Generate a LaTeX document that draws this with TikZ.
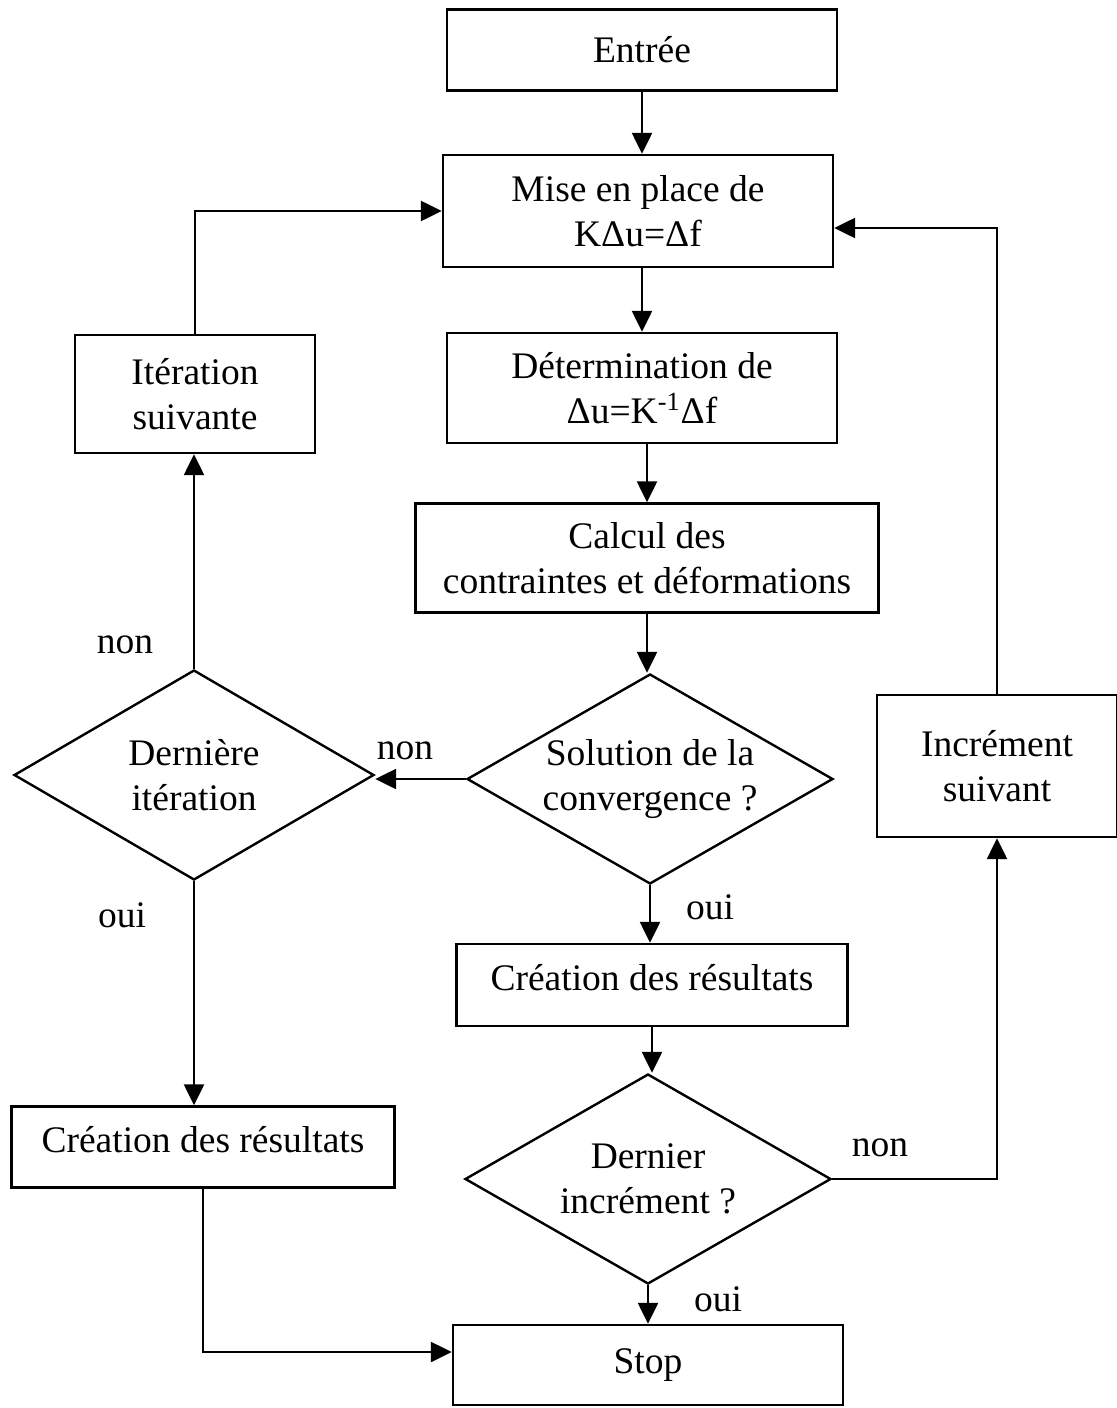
\documentclass[tikz,border=0pt]{standalone}
\usepackage{fontspec}
\setmainfont{Liberation Serif}
\usepackage{tikz}
\usetikzlibrary{arrows.meta, positioning, shapes.geometric}

\begin{document}
\begin{tikzpicture}[
    x=0.5pt, y=-0.5pt,
    >={Triangle[length=10.5pt, width=10pt]},
    txt/.style={font=\fontsize{18.75pt}{22.5pt}\selectfont},
    box/.style={draw, txt, line width=1.2pt, align=center, inner sep=2pt},
    dec/.style={draw, diamond, aspect=1.74, txt, line width=1.2pt, align=center, inner sep=0pt, minimum width=183pt, minimum height=105pt},
]
    \useasboundingbox (0,0) rectangle (1117,1408);

    % main column
    \node[box, minimum width=195pt, minimum height=40.5pt] (entree) at (642,50) {Entrée};
    \node[box, minimum width=195pt, minimum height=56pt] (mise) at (638,211) {Mise en place de\\KΔu=Δf};
    \node[box, minimum width=195pt, minimum height=55pt] (det) at (642,388) {Détermination de\\Δu=K\textsuperscript{-1}Δf};
    \node[box, minimum width=231.5pt, minimum height=54.5pt] (calc) at (647,558) {Calcul des\\contraintes et déformations};
    \node[dec] (conv) at (650,779) {Solution de la\\convergence ?};
    \node[box, minimum width=195.5pt, minimum height=41pt, text depth=8pt] (res) at (652,985) {Création des résultats};
    \node[dec] (dinc) at (648,1179) {Dernier\\incrément ?};
    \node[box, minimum width=195pt, minimum height=40pt] (stop) at (648,1365) {Stop};

    % left and right branches
    \node[box, minimum width=120pt, minimum height=59pt] (iter) at (195,394) {Itération\\suivante};
    \node[dec, minimum width=180pt] (dit) at (194,775) {Dernière\\itération};
    \node[box, minimum width=191.5pt, minimum height=40.5pt, text depth=8pt] (resg) at (203,1147) {Création des résultats};
    \node[box, minimum width=120pt, minimum height=71pt] (incr) at (997,766) {Incrément\\suivant};

    % labels
    \node[txt] (non1) at (125,645) {non};
    \node[txt] (non2) at (405,751) {non};
    \node[txt] (non3) at (880,1148) {non};
    \node[txt] (oui1) at (122,915) {oui};
    \node[txt] (oui2) at (710,907) {oui};
    \node[txt] (oui3) at (718,1299) {oui};

    \draw[->, line width=1.2pt] (entree.south) -- (entree.south |- mise.north);
    \draw[->, line width=1.2pt] (det.north |- mise.south) -- (det.north);
    \draw[->, line width=1.2pt] (calc.north |- det.south) -- (calc.north);
    \draw[->, line width=1.2pt] (calc.south) -- (calc.south |- conv.north);
    \draw[->, line width=1.2pt] (conv.south) -- (conv.south |- res.north);
    \draw[->, line width=1.2pt] (res.south) -- (res.south |- dinc.north);
    \draw[->, line width=1.2pt] (dinc.south) -- (dinc.south |- stop.north);
    \draw[->, line width=1.2pt] (conv.west) -- (conv.west -| dit.east);
    \draw[->, line width=1.2pt] (dit.north) -- (dit.north |- iter.south);
    \draw[->, line width=1.2pt] (iter.north) |- (mise.west);
    \draw[->, line width=1.2pt] (dit.south) -- (dit.south |- resg.north);
    \draw[->, line width=1.2pt] (resg.south) |- ([yshift=6.5pt]stop.west);
    \draw[->, line width=1.2pt] (dinc.east) -| (incr.south);
    \draw[->, line width=1.2pt] (incr.north) |- ([yshift=-8.5pt]mise.east);
\end{tikzpicture}
\end{document}
